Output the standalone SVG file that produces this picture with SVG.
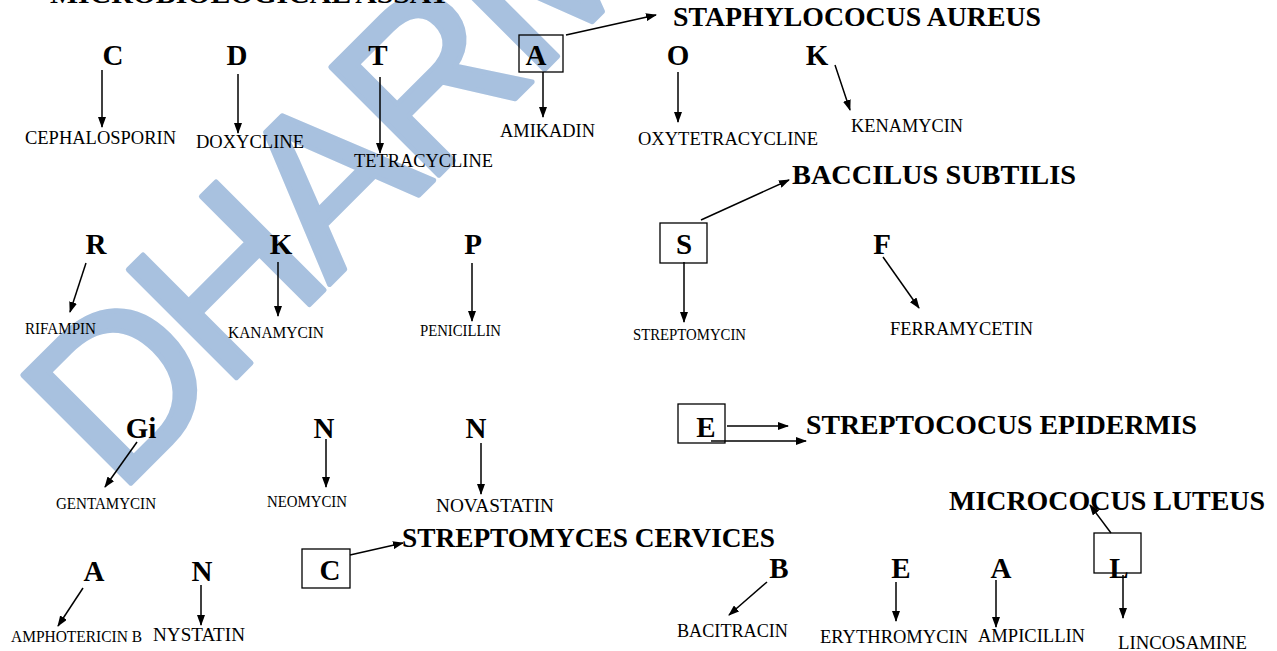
<svg xmlns="http://www.w3.org/2000/svg" width="1277" height="651" viewBox="0 0 1277 651">
<style>
.wm{font-family:"Liberation Sans",Arial,sans-serif;font-size:222px;fill:#a8c1df;stroke:#a8c1df;stroke-width:5px;stroke-linejoin:round;letter-spacing:-11px}
.ltr{font-family:"Liberation Serif","Times New Roman",serif;font-weight:bold;font-size:29px;text-anchor:middle;fill:#000}
.hd{font-family:"Liberation Serif","Times New Roman",serif;font-weight:bold;font-size:27px;fill:#000}
.lb{font-family:"Liberation Serif","Times New Roman",serif;font-size:18px;fill:#000}
.sm{font-size:16px}
.box{fill:none;stroke:#000;stroke-width:1.3}
.ar{fill:none;stroke:#000;stroke-width:1.5;marker-end:url(#ah)}
</style>
<defs>
<marker id="ah" markerUnits="userSpaceOnUse" markerWidth="11" markerHeight="8" refX="10" refY="4" orient="auto">
<path d="M0,0 L11,4 L0,8 z" fill="#000"/>
</marker>
</defs>
<rect width="1277" height="651" fill="#fff"/>
<text id="watermark" class="wm" transform="translate(118,496) rotate(-45)">DHARMA</text>

<g id="headings">
<text id="title" class="hd" x="50" y="3" font-size="29" textLength="400" lengthAdjust="spacingAndGlyphs">MICROBIOLOGICAL  ASSAY</text>
<text id="h-staph" class="hd" x="673" y="26" textLength="368" lengthAdjust="spacingAndGlyphs">STAPHYLOCOCUS AUREUS</text>
<text id="h-bacc" class="hd" x="792" y="184" textLength="284" lengthAdjust="spacingAndGlyphs">BACCILUS SUBTILIS</text>
<text id="h-strepto" class="hd" x="806" y="434" textLength="391" lengthAdjust="spacingAndGlyphs">STREPTOCOCUS EPIDERMIS</text>
<text id="h-micro" class="hd" x="949" y="510" textLength="316" lengthAdjust="spacingAndGlyphs">MICROCOCUS LUTEUS</text>
<text id="h-streptomyces" class="hd" x="402" y="547" textLength="373" lengthAdjust="spacingAndGlyphs">STREPTOMYCES CERVICES</text>
</g>

<g id="n-C1"><text class="ltr" x="113" y="65">C</text><text class="lb" x="25" y="144" textLength="151" lengthAdjust="spacingAndGlyphs">CEPHALOSPORIN</text></g>
<g id="n-D1"><text class="ltr" x="237" y="65">D</text><text class="lb" x="196" y="148" textLength="108" lengthAdjust="spacingAndGlyphs">DOXYCLINE</text></g>
<g id="n-T1"><text class="ltr" x="378" y="65">T</text><text class="lb" x="354" y="167" textLength="139" lengthAdjust="spacingAndGlyphs">TETRACYCLINE</text></g>
<g id="n-A1"><rect class="box" x="519" y="35" width="44" height="37"/><text class="ltr" x="536" y="65">A</text><text class="lb" x="500" y="137" textLength="95" lengthAdjust="spacingAndGlyphs">AMIKADIN</text></g>
<g id="n-O1"><text class="ltr" x="678" y="65">O</text><text class="lb" x="638" y="145" textLength="180" lengthAdjust="spacingAndGlyphs">OXYTETRACYCLINE</text></g>
<g id="n-K1"><text class="ltr" x="817" y="65">K</text><text class="lb" x="851" y="132" textLength="112" lengthAdjust="spacingAndGlyphs">KENAMYCIN</text></g>

<g id="n-R2"><text class="ltr" x="96" y="254">R</text><text class="lb sm" x="25" y="334" textLength="71" lengthAdjust="spacingAndGlyphs">RIFAMPIN</text></g>
<g id="n-K2"><text class="ltr" x="281" y="254">K</text><text class="lb sm" x="228" y="338" textLength="96" lengthAdjust="spacingAndGlyphs">KANAMYCIN</text></g>
<g id="n-P2"><text class="ltr" x="473" y="254">P</text><text class="lb sm" x="420" y="336" textLength="81" lengthAdjust="spacingAndGlyphs">PENICILLIN</text></g>
<g id="n-S2"><rect class="box" x="660" y="223" width="47" height="40"/><text class="ltr" x="684" y="254">S</text><text class="lb sm" x="633" y="340" textLength="113" lengthAdjust="spacingAndGlyphs">STREPTOMYCIN</text></g>
<g id="n-F2"><text class="ltr" x="882" y="254">F</text><text class="lb" x="890" y="335" textLength="143" lengthAdjust="spacingAndGlyphs">FERRAMYCETIN</text></g>

<g id="n-Gi3"><text class="ltr" x="141" y="438">Gi</text><text class="lb sm" x="56" y="509" textLength="100" lengthAdjust="spacingAndGlyphs">GENTAMYCIN</text></g>
<g id="n-N3a"><text class="ltr" x="324" y="438">N</text><text class="lb sm" x="267" y="507" textLength="80" lengthAdjust="spacingAndGlyphs">NEOMYCIN</text></g>
<g id="n-N3b"><text class="ltr" x="476" y="438">N</text><text class="lb" x="436" y="512" textLength="118" lengthAdjust="spacingAndGlyphs">NOVASTATIN</text></g>
<g id="n-E3"><rect class="box" x="678" y="404" width="47" height="39"/><text class="ltr" x="706" y="437">E</text></g>

<g id="n-A4"><text class="ltr" x="94" y="581">A</text><text class="lb sm" x="11" y="642" textLength="131" lengthAdjust="spacingAndGlyphs">AMPHOTERICIN  B</text></g>
<g id="n-N4"><text class="ltr" x="202" y="581">N</text><text class="lb" x="153" y="641" textLength="92" lengthAdjust="spacingAndGlyphs">NYSTATIN</text></g>
<g id="n-C4"><rect class="box" x="302" y="549" width="48" height="39"/><text class="ltr" x="330" y="580">C</text></g>
<g id="n-B4"><text class="ltr" x="779" y="578">B</text><text class="lb" x="677" y="637" textLength="111" lengthAdjust="spacingAndGlyphs">BACITRACIN</text></g>
<g id="n-E4"><text class="ltr" x="901" y="578">E</text><text class="lb" x="820" y="643" textLength="148" lengthAdjust="spacingAndGlyphs">ERYTHROMYCIN</text></g>
<g id="n-A4b"><text class="ltr" x="1001" y="578">A</text><text class="lb" x="978" y="642" textLength="107" lengthAdjust="spacingAndGlyphs">AMPICILLIN</text></g>
<g id="n-L4"><rect class="box" x="1094" y="533" width="47" height="40"/><text class="ltr" x="1119" y="578">L</text><text class="lb" x="1118" y="649" textLength="129" lengthAdjust="spacingAndGlyphs">LINCOSAMINE</text></g>

<g id="connectors">
<line class="ar" x1="102" y1="70" x2="102" y2="127"/>
<line class="ar" x1="238" y1="74" x2="238" y2="133"/>
<line class="ar" x1="380" y1="77" x2="380" y2="153"/>
<line class="ar" x1="543" y1="72" x2="543" y2="117"/>
<line class="ar" x1="678" y1="72" x2="678" y2="122"/>
<line class="ar" x1="835" y1="65" x2="850" y2="110"/>
<line class="ar" x1="566" y1="35" x2="656" y2="15"/>
<line class="ar" x1="701" y1="220" x2="789" y2="180"/>
<line class="ar" x1="86" y1="263" x2="70" y2="312"/>
<line class="ar" x1="278" y1="262" x2="278" y2="316"/>
<line class="ar" x1="472" y1="263" x2="472" y2="321"/>
<line class="ar" x1="684" y1="262" x2="684" y2="322"/>
<line class="ar" x1="883" y1="257" x2="919" y2="308"/>
<line class="ar" x1="727" y1="426" x2="788" y2="426"/>
<line class="ar" x1="711" y1="441" x2="806" y2="441"/>
<line class="ar" x1="137" y1="442" x2="105" y2="487"/>
<line class="ar" x1="326" y1="439" x2="326" y2="487"/>
<line class="ar" x1="481" y1="443" x2="481" y2="494"/>
<line class="ar" x1="350" y1="555" x2="403" y2="543"/>
<line class="ar" x1="83" y1="588" x2="58" y2="626"/>
<line class="ar" x1="201" y1="585" x2="201" y2="625"/>
<line class="ar" x1="767" y1="582" x2="729" y2="615"/>
<line class="ar" x1="896" y1="582" x2="896" y2="621"/>
<line class="ar" x1="996" y1="580" x2="996" y2="627"/>
<line class="ar" x1="1123" y1="575" x2="1123" y2="618"/>
<line class="ar" x1="1111" y1="533" x2="1090" y2="505"/>
</g>
</svg>
